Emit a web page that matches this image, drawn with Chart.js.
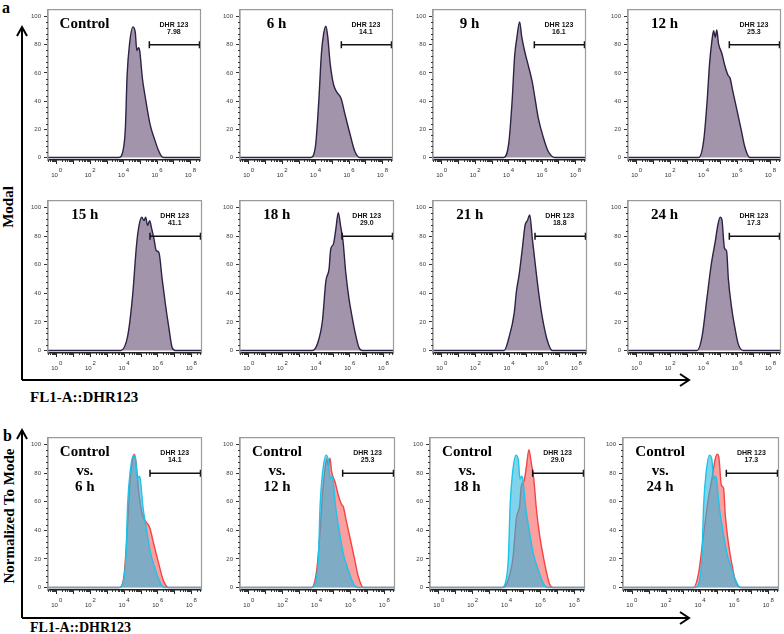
<!DOCTYPE html>
<html>
<head>
<meta charset="utf-8">
<script src="https://cdn.jsdelivr.net/npm/chart.js@4.4.0/dist/chart.umd.min.js"></script>
<style>
  html, body { margin: 0; padding: 0; background: #fff; }
  #fig { position: relative; width: 784px; height: 634px; overflow: hidden; font-family: 'Liberation Serif', 'Times New Roman', serif; }
  canvas.panel { position: absolute; }
  .lbl { position: absolute; font-weight: bold; color: #000; white-space: nowrap; line-height: 1; }
  .rot { transform: translate(-50%, -50%) rotate(-90deg); }
  svg { position: absolute; left: 0; top: 0; }
</style>
</head>
<body>
<div id="fig">
  <svg width="784" height="634">
    <g stroke="#000" stroke-width="2" fill="none">
      <path d="M22 380 V28 M17 36 L22 27 L27 36" />
      <path d="M22 380 H688 M680 374 L689 380 L680 386" />
      <path d="M22 618 V431 M17 439 L22 430 L27 439" />
      <path d="M22 618 H688 M680 612 L689 618 L680 624" />
    </g>
  </svg>
  <div class="lbl" style="left:2px;top:0px;font-size:16px;">a</div>
  <div class="lbl" style="left:3px;top:428px;font-size:16px;">b</div>
  <div class="lbl rot" style="left:8px;top:207px;font-size:15px;">Modal</div>
  <div class="lbl rot" style="left:9px;top:516px;font-size:15px;">Normalized To Mode</div>
  <div class="lbl" style="left:30px;top:390px;font-size:15px;">FL1-A::DHR123</div>
  <div class="lbl" style="left:30px;top:621px;font-size:14px;">FL1-A::DHR123</div>
</div>
<script>
// x values are log10 of fluorescence (decades), y values are % of mode
const ctrlX = [-0.53, 3.7, 4.0, 4.1, 4.2, 4.35, 4.55, 4.69, 4.78, 4.88, 4.95, 5.12, 5.27, 5.57, 5.86, 6.06, 6.25, 6.4, 8.59];
const ctrlY = [0, 0, 7.8, 21.5, 58, 81, 92.7, 88.8, 76, 78, 76, 55.7, 44, 23.7, 12.3, 5.5, 1, 0, 0];

const h6X = [-0.53, 3.69, 3.98, 4.18, 4.34, 4.47, 4.61, 4.72, 4.86, 5.06, 5.25, 5.51, 5.75, 6.04, 6.33, 6.63, 8.59];
const h6Y = [0, 0, 7.8, 39.7, 73.9, 87.7, 93.3, 85.4, 67, 52, 46.6, 42, 30.6, 17, 4.6, 0, 0];

const h9X = [-0.53, 3.7, 4.0, 4.2, 4.35, 4.49, 4.65, 4.78, 4.98, 5.18, 5.41, 5.57, 5.76, 6.06, 6.35, 6.75, 8.59];
const h9Y = [0, 0, 10, 39.7, 71.7, 85.4, 96.3, 85.4, 74, 64.8, 53.4, 42, 28.3, 14.6, 4.6, 0, 0];

const h12X = [-0.53, 3.7, 4.0, 4.2, 4.35, 4.49, 4.59, 4.69, 4.78, 4.88, 5.08, 5.27, 5.47, 5.57, 5.71, 5.96, 6.25, 6.45, 6.75, 8.59];
const h12Y = [0, 0, 12.3, 39.7, 67, 83, 90, 85.4, 90.6, 81, 74, 64.8, 58, 56.6, 48.6, 35, 19, 7.8, 0, 0];

const h15X = [-0.53, 3.8, 4.2, 4.49, 4.73, 4.88, 5.04, 5.18, 5.27, 5.39, 5.51, 5.63, 5.76, 5.9, 6.06, 6.25, 6.45, 6.65, 6.84, 7.04, 8.59];
const h15Y = [0, 0, 9.8, 37.5, 73.9, 87.6, 93.3, 91, 93.3, 87.6, 91, 85.3, 78.5, 70, 68.6, 50.3, 32, 16, 2.3, 0, 0];

const h18X = [-0.53, 3.78, 4.08, 4.37, 4.57, 4.76, 4.86, 5.02, 5.16, 5.31, 5.45, 5.59, 5.75, 5.94, 6.14, 6.33, 6.53, 6.73, 8.59];
const h18Y = [0, 0, 5, 21, 48.5, 57, 71, 74.5, 84.7, 96.6, 87, 76.7, 55, 36.6, 22.9, 11.5, 2.3, 0, 0];

const h21X = [-0.53, 3.7, 4.0, 4.29, 4.43, 4.59, 4.78, 4.94, 5.08, 5.22, 5.37, 5.57, 5.76, 5.96, 6.25, 6.55, 8.59];
const h21Y = [0, 0, 9.8, 25.8, 41.8, 53.3, 71.6, 87.6, 91, 95, 78.5, 57.8, 39.5, 23.5, 7.5, 0, 0];

const h24X = [-0.53, 3.61, 3.9, 4.2, 4.45, 4.69, 4.84, 4.98, 5.08, 5.24, 5.37, 5.47, 5.67, 5.86, 6.06, 6.35, 8.59];
const h24Y = [0, 0, 9.8, 37.5, 60.4, 76.5, 87.6, 93.3, 92, 71.6, 69.4, 50.3, 29.7, 16, 4.6, 0, 0];

const topTitles = ['Control', '6 h', '9 h', '12 h', '15 h', '18 h', '21 h', '24 h'];
const topGates = ['7.98', '14.1', '16.1', '25.3', '41.1', '29.0', '18.8', '17.3'];
const cmpTimes = ['6 h', '12 h', '18 h', '24 h'];
const cmpGates = ['14.1', '25.3', '29.0', '17.3'];

const gateFrom = 5.53, gateTo = 8.53, gateLevel = 80;
const xMin = -0.53, xMax = 8.59, yMin = -1.8, yMax = 105;
const xMajor = [0, 1, 2, 3, 4, 5, 6, 7, 8];
const xLabelled = [0, 2, 4, 6, 8];
const yMajor = [0, 20, 40, 60, 80, 100];

const topSeries = [[ctrlX, ctrlY], [h6X, h6Y], [h9X, h9Y], [h12X, h12Y],
                   [h15X, h15Y], [h18X, h18Y], [h21X, h21Y], [h24X, h24Y]];
const cmpSeries = [[h6X, h6Y], [h12X, h12Y], [h18X, h18Y], [h24X, h24Y]];

// panel frames on the page (left, top, width, x-axis y)
const topFrames = [
    [48, 5, 155, 160], [240, 5, 155, 160], [433, 5, 155, 160], [628, 5, 155, 160],
    [48, 196, 156, 353], [240, 196, 156, 353], [433, 196, 156, 353], [628, 196, 155, 353]
];
const cmpFrames = [[48, 433, 156, 590], [240, 433, 157, 590], [430, 433, 157, 590], [623, 433, 158, 590]];

const AX_W = 30, AX_H = 24, PAD_T = 2, PAD_R = 3;

function toPoints(xs, ys) {
    return xs.map((v, i) => ({ x: v, y: ys[i] }));
}

// extra drawing: frame, minor ticks, log labels, panel texts
const panelDecor = {
    id: 'panelDecor',
    afterDraw(chart, args, opts) {
        const ctx = chart.ctx;
        const a = chart.chartArea;
        const xs = chart.scales.x, ys = chart.scales.y;
        ctx.save();
        ctx.strokeStyle = '#9a9a9a';
        ctx.lineWidth = 1.2;
        ctx.beginPath();
        ctx.moveTo(a.left, a.bottom);
        ctx.lineTo(a.left, a.top);
        ctx.lineTo(a.right, a.top);
        ctx.lineTo(a.right, a.bottom);
        ctx.stroke();

        // minor ticks
        ctx.strokeStyle = '#333';
        ctx.lineWidth = 1;
        ctx.beginPath();
        for (let v = 4; v < 104; v += 4) {
            if (v % 20 === 0) continue;
            const py = Math.round(ys.getPixelForValue(v)) + 0.5;
            ctx.moveTo(a.left - 2, py);
            ctx.lineTo(a.left, py);
        }
        for (let d = -1; d <= 8; d++) {
            for (let k = 2; k <= 9; k++) {
                const val = d + Math.log10(k);
                if (val < xMin || val > xMax) continue;
                const px = Math.round(xs.getPixelForValue(val)) + 0.5;
                ctx.moveTo(px, a.bottom);
                ctx.lineTo(px, a.bottom + 2);
            }
        }
        ctx.stroke();

        // 10^n labels
        ctx.fillStyle = '#333';
        xLabelled.forEach(e => {
            const px = xs.getPixelForValue(e);
            ctx.font = '6px "Liberation Sans", Arial, sans-serif';
            ctx.textAlign = 'right';
            ctx.textBaseline = 'alphabetic';
            ctx.fillText('10', px + 1, a.bottom + 17);
            ctx.textAlign = 'left';
            ctx.fillText(String(e), px + 2, a.bottom + 12);
        });

        // gate label
        ctx.fillStyle = '#111';
        ctx.font = 'bold 7px "Liberation Sans", Arial, sans-serif';
        ctx.textAlign = 'center';
        ctx.textBaseline = 'middle';
        const gx = xs.getPixelForValue(7.0);
        ctx.fillText('DHR 123', gx, ys.getPixelForValue(94));
        ctx.fillText(opts.gate, gx, ys.getPixelForValue(89));

        // panel title lines
        ctx.fillStyle = '#000';
        ctx.font = 'bold 15px "Liberation Serif", "Times New Roman", serif';
        const tx = xs.getPixelForValue(1.65);
        opts.title.forEach((t, i) => {
            ctx.fillText(t, tx, ys.getPixelForValue(opts.titleY[i]));
        });
        ctx.restore();
    }
};

function makePanel(frame, datasets, title, titleY, gate) {
    const [l, t, w, b] = frame;
    const cv = document.createElement('canvas');
    cv.className = 'panel';
    const cw = w + AX_W + PAD_R;
    const ch = (b - t) + PAD_T + AX_H;
    cv.width = cw;
    cv.height = ch;
    cv.style.left = (l - AX_W) + 'px';
    cv.style.top = (t - PAD_T) + 'px';
    cv.style.width = cw + 'px';
    cv.style.height = ch + 'px';
    document.getElementById('fig').appendChild(cv);

    const gateSet = {
        data: [{ x: gateFrom, y: gateLevel }, { x: gateTo, y: gateLevel }],
        borderColor: '#111',
        borderWidth: 1.5,
        pointStyle: 'line',
        rotation: 90,
        pointRadius: 3.5,
        pointBorderColor: '#111',
        pointBorderWidth: 1.5,
        fill: false
    };

    new Chart(cv, {
        type: 'line',
        data: { datasets: [gateSet].concat(datasets) },
        options: {
            responsive: false,
            animation: false,
            devicePixelRatio: 1,
            layout: { padding: { top: PAD_T, right: PAD_R, left: 0, bottom: 0 } },
            plugins: {
                legend: { display: false },
                tooltip: { enabled: false },
                panelDecor: { title: title, titleY: titleY, gate: gate }
            },
            elements: { point: { radius: 0 } },
            scales: {
                x: {
                    type: 'linear',
                    min: xMin,
                    max: xMax,
                    afterBuildTicks: s => { s.ticks = xMajor.map(v => ({ value: v })); },
                    afterFit: s => { s.height = AX_H; },
                    ticks: { callback: () => '', font: { size: 6 } },
                    grid: { drawOnChartArea: false, drawTicks: true, tickLength: 4, color: '#222', tickWidth: 1 },
                    border: { color: '#222', width: 1.5 }
                },
                y: {
                    type: 'linear',
                    min: yMin,
                    max: yMax,
                    afterBuildTicks: s => { s.ticks = yMajor.map(v => ({ value: v })); },
                    afterFit: s => { s.width = AX_W; },
                    ticks: {
                        font: { size: 6, family: '"Liberation Sans", Arial, sans-serif' },
                        color: '#444',
                        padding: 3
                    },
                    grid: { drawOnChartArea: false, drawTicks: true, tickLength: 4, color: '#333' },
                    border: { color: '#9a9a9a', width: 1.2 }
                }
            }
        },
        plugins: [panelDecor]
    });
}

const lineOpts = { pointRadius: 0, cubicInterpolationMode: 'monotone', fill: 'origin' };

topSeries.forEach((s, i) => {
    const ds = Object.assign({
        data: toPoints(s[0], s[1]),
        borderColor: '#2e2245',
        backgroundColor: 'rgba(152,138,162,0.9)',
        borderWidth: 1.4
    }, lineOpts);
    makePanel(topFrames[i], [ds], [topTitles[i]], [95], topGates[i]);
});

cmpSeries.forEach((s, i) => {
    const control = Object.assign({
        data: toPoints(ctrlX, ctrlY),
        borderColor: '#1fc3e8',
        backgroundColor: 'rgba(45,180,222,0.6)',
        borderWidth: 1.4
    }, lineOpts);
    const treated = Object.assign({
        data: toPoints(s[0], s[1]),
        borderColor: '#f24545',
        backgroundColor: 'rgba(248,95,95,0.6)',
        borderWidth: 1.4
    }, lineOpts);
    makePanel(cmpFrames[i], [control, treated], ['Control', 'vs.', cmpTimes[i]], [95, 81.5, 70], cmpGates[i]);
});
</script>
</body>
</html>
